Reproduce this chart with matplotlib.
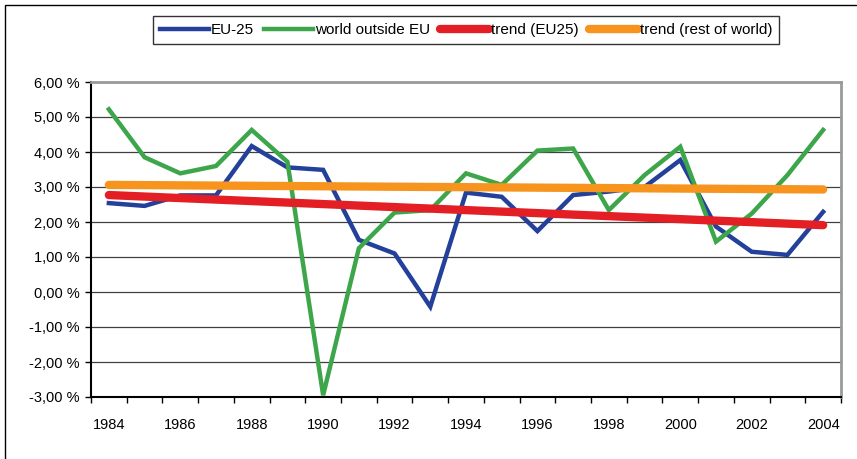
import matplotlib.pyplot as plt
import matplotlib.patches as patches
import numpy as np

plt.rcParams['font.family'] = ['Liberation Sans', 'DejaVu Sans']

years = list(range(1984, 2005))
eu25 = [2.54, 2.46, 2.76, 2.76, 4.17, 3.56, 3.49, 1.49, 1.10, -0.42, 2.84, 2.72, 1.74,
        2.77, 2.87, 3.00, 3.77, 1.87, 1.15, 1.06, 2.29]
world = [5.22, 3.85, 3.39, 3.60, 4.63, 3.72, -2.95, 1.25, 2.27, 2.34, 3.39, 3.06, 4.04,
         4.10, 2.34, 3.34, 4.15, 1.44, 2.24, 3.34, 4.63]
trend_eu = [2.77, 1.91]        # start / end of the trend line
trend_world = [3.06, 2.93]

x = np.arange(len(years))
ends = [x[0], x[-1]]

fig = plt.figure(figsize=(8.57, 4.59), dpi=100)
ax = fig.add_axes([91 / 857, 1 - 397 / 459, 750 / 857, 315 / 459])

ax.plot(x, eu25, color='#23409A', lw=3.2, label='EU-25', solid_joinstyle='miter')
ax.plot(x, world, color='#3DA64A', lw=3.2, label='world outside EU', solid_joinstyle='miter')
ax.plot(ends, trend_eu, color='#E31E24', lw=6, label='trend (EU25)', solid_capstyle='round')
ax.plot(ends, trend_world, color='#F7941D', lw=6, label='trend (rest of world)', solid_capstyle='round')

ax.set_xlim(-0.5, len(years) - 0.5)
ax.set_ylim(-3, 6)
ax.set_yticks(np.arange(-3, 7, 1))
ax.set_yticklabels([('%.2f %%' % v).replace('.', ',') for v in np.arange(-3, 7, 1)])
ax.set_xticks(x[::2])
ax.set_xticklabels([str(y) for y in years[::2]])
ax.set_xticks(np.arange(-0.5, len(years), 1), minor=True)
ax.tick_params(axis='x', which='major', length=0, pad=15, labelsize=10.5)
ax.tick_params(axis='x', which='minor', length=4, width=1, direction='out')
ax.tick_params(axis='y', length=4, width=1, direction='out', labelsize=10.5, pad=4)
ax.yaxis.grid(True, color='#404040', lw=0.9)
ax.set_axisbelow(True)

for s in ['top', 'right']:
    ax.spines[s].set_color('#999999')
    ax.spines[s].set_linewidth(2)
ax.spines['left'].set_linewidth(1.5)
ax.spines['bottom'].set_linewidth(1.5)

leg = fig.legend(loc='center', bbox_to_anchor=(466 / 857, 1 - 30 / 459), ncol=4,
                 frameon=True, fancybox=False, edgecolor='black', fontsize=11,
                 handlelength=3.2, handletextpad=0.1, columnspacing=0.7,
                 borderpad=0.45)
leg.get_frame().set_linewidth(1)

fig.patches.append(patches.Rectangle((5 / 857, -0.1), 2, 1 - 5 / 459 + 0.1,
                                     transform=fig.transFigure, fill=False,
                                     edgecolor='black', lw=1))

fig.savefig('out.png', dpi=100)
